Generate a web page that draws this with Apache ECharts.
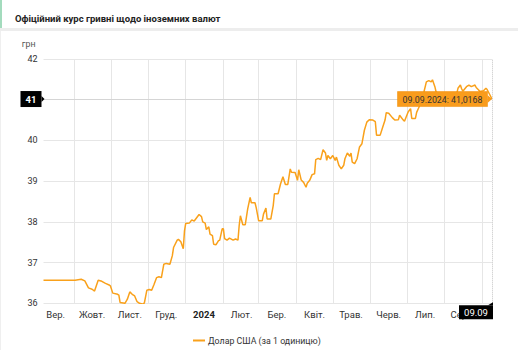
<!DOCTYPE html>
<html><head><meta charset="utf-8">
<script src="https://cdn.jsdelivr.net/npm/echarts@6/dist/echarts.min.js"></script>
<style>html,body{margin:0;padding:0;background:#fff}#c{width:518px;height:350px}</style>
</head><body><div id="c"></div>
<script>
const titleText = 'Офіційний курс гривні щодо іноземних валют';
const seriesName = 'Долар США (за 1 одиницю)';
const unitName = 'грн';
const monthNames = ['Січ.','Лют.','Бер.','Квіт.','Трав.','Черв.','Лип.','Серп.','Вер.','Жовт.','Лист.','Груд.'];
const yTicks = [36, 37, 38, 39, 40, 41, 42];
const rangeStart = '2023-09-06';
const rangeEnd = '2024-09-09';

const rateDates = ['2023-09-06','2023-10-02','2023-10-07','2023-10-10','2023-10-13','2023-10-16','2023-10-18','2023-10-21','2023-10-24','2023-10-27','2023-10-30','2023-10-31',
'2023-11-02','2023-11-06','2023-11-07','2023-11-08','2023-11-12','2023-11-14','2023-11-16','2023-11-18','2023-11-20','2023-11-22','2023-11-24','2023-11-27','2023-11-28','2023-11-30',
'2023-12-02','2023-12-04','2023-12-06','2023-12-08','2023-12-10','2023-12-12','2023-12-14','2023-12-16','2023-12-19','2023-12-21','2023-12-22','2023-12-25','2023-12-26','2023-12-28','2023-12-30','2023-12-31',
'2024-01-01','2024-01-04','2024-01-06','2024-01-08','2024-01-10','2024-01-12','2024-01-14','2024-01-15','2024-01-17','2024-01-18','2024-01-20','2024-01-21','2024-01-23','2024-01-24','2024-01-26','2024-01-28','2024-01-29','2024-01-31',
'2024-02-01','2024-02-02','2024-02-04','2024-02-06','2024-02-09','2024-02-11','2024-02-13','2024-02-14','2024-02-15','2024-02-17','2024-02-19','2024-02-21','2024-02-23','2024-02-24','2024-02-27','2024-02-28',
'2024-03-01','2024-03-04','2024-03-05','2024-03-07','2024-03-08','2024-03-11','2024-03-13','2024-03-14','2024-03-17','2024-03-19','2024-03-21','2024-03-23','2024-03-25','2024-03-27','2024-03-28','2024-03-31',
'2024-04-02','2024-04-03','2024-04-05','2024-04-07','2024-04-09','2024-04-10','2024-04-12','2024-04-14','2024-04-16','2024-04-17','2024-04-19','2024-04-21','2024-04-23','2024-04-25','2024-04-26','2024-04-27','2024-04-29',
'2024-05-01','2024-05-03','2024-05-04','2024-05-06','2024-05-08','2024-05-10','2024-05-11','2024-05-13','2024-05-15','2024-05-16','2024-05-17','2024-05-19','2024-05-21','2024-05-23','2024-05-25','2024-05-27','2024-05-29','2024-05-31',
'2024-06-03','2024-06-05','2024-06-06','2024-06-09','2024-06-11','2024-06-13','2024-06-14','2024-06-16','2024-06-19','2024-06-21','2024-06-24','2024-06-25','2024-06-28','2024-06-29',
'2024-07-02','2024-07-04','2024-07-05','2024-07-08','2024-07-09','2024-07-11','2024-07-13','2024-07-15','2024-07-17','2024-07-19','2024-07-21','2024-07-22','2024-07-24','2024-07-25','2024-07-27','2024-07-30',
'2024-08-02','2024-08-05','2024-08-08','2024-08-11','2024-08-12','2024-08-14','2024-08-15','2024-08-16','2024-08-19','2024-08-21','2024-08-23','2024-08-26','2024-08-27','2024-08-29','2024-08-30',
'2024-09-02','2024-09-04','2024-09-05','2024-09-09'];

const rateValues = [36.5686,36.5686,36.59,36.55,36.38,36.345,36.30,36.567,36.54,36.49,36.45,36.43,
36.25,36.22,36.20,36.02,36.00,36.10,36.28,36.22,36.18,36.04,36.00,35.98,36.01,36.32,
36.34,36.32,36.47,36.63,36.65,36.63,36.96,36.98,36.96,37.17,37.37,37.55,37.57,37.51,37.34,37.78,
37.96,37.97,38.05,38.02,38.10,38.18,38.13,38.00,37.97,37.81,37.88,37.70,37.66,37.45,37.44,37.54,37.55,37.83,
37.83,37.59,37.55,37.60,37.55,37.58,37.55,37.91,38.15,37.93,37.93,38.32,38.60,38.47,38.47,38.35,
38.03,38.03,38.19,38.34,38.07,38.07,38.40,38.69,38.69,38.93,39.11,38.92,38.92,39.30,39.22,39.21,
39.02,39.28,39.03,38.97,38.85,38.95,39.02,39.16,39.18,39.53,39.56,39.53,39.77,39.69,39.51,39.63,39.55,
39.63,39.51,39.59,39.39,39.30,39.39,39.55,39.69,39.61,39.69,39.47,39.43,39.55,39.84,39.92,40.25,40.45,40.51,
40.50,40.46,40.13,40.13,40.32,40.50,40.68,40.67,40.56,40.50,40.51,40.62,40.50,40.47,
40.70,40.78,40.54,40.54,40.69,40.82,40.99,41.19,41.44,41.47,41.44,41.49,41.32,41.19,41.15,41.10,
41.05,41.12,41.08,41.15,41.28,41.36,41.27,41.21,41.32,41.36,41.32,41.36,41.30,41.24,41.20,
41.22,41.28,41.25,41.0168];

// calendar days of the axis
const dayCats = [];
(function(){
  let d = new Date(rangeStart + 'T00:00:00Z');
  const end = new Date(rangeEnd + 'T00:00:00Z');
  while (d <= end) { dayCats.push(d.toISOString().slice(0,10)); d = new Date(d.getTime() + 86400000); }
})();

const seriesData = rateDates.map((d, i) => [d, rateValues[i]]);
const lastDate = rateDates[rateDates.length - 1];
const lastVal = rateValues[rateValues.length - 1];
const pointerTick = Math.round(lastVal);
const FONT = 'Roboto, "Noto Sans", sans-serif';

const chart = echarts.init(document.getElementById('c'), null, {renderer: 'svg'});
chart.setOption({
  animation: false,
  backgroundColor: '#fff',
  title: {text: titleText, left: 10, top: 8, textStyle: {fontFamily: FONT, fontSize: 9.5, fontWeight: 'bold', color: '#222'}},
  legend: {
    data: [seriesName], left: 188, top: 331, icon: 'rect', itemWidth: 12, itemHeight: 2, itemGap: 4,
    textStyle: {fontFamily: FONT, fontSize: 8.8, color: '#333', padding: [0, 0, 0, -2]}
  },
  grid: {left: 43.5, right: 26, top: 59, bottom: 46.7, containLabel: false},
  xAxis: {
    type: 'category', data: dayCats, boundaryGap: false,
    axisLine: {show: false}, axisTick: {show: false},
    axisLabel: {
      interval: (idx, val) => val.slice(8) === '16', margin: 6,
      fontFamily: FONT, fontSize: 9.5, color: '#333',
      formatter: (val) => { const m = +val.slice(5,7); return m === 1 ? '{y|' + val.slice(0,4) + '}' : monthNames[m-1]; },
      rich: {y: {fontFamily: FONT, fontSize: 9.5, fontWeight: 'bold', color: '#222'}}
    },
    splitLine: {show: true, interval: (idx, val) => val.slice(8) === '01', lineStyle: {color: '#e6e6e6', width: 1}}
  },
  yAxis: {
    type: 'value', min: yTicks[0], max: yTicks[yTicks.length-1], interval: 1,
    name: unitName, nameLocation: 'end', nameGap: 11,
    nameTextStyle: {fontFamily: FONT, fontSize: 8.8, color: '#555', align: 'right', padding: [0, 8, 0, 0]},
    axisLine: {show: false}, axisTick: {show: false},
    // the tick under the crosshair label is covered by it, as in the reference
    axisLabel: {margin: 6, fontFamily: FONT, fontSize: 9, color: '#333', formatter: (v) => v === pointerTick ? '' : String(v)},
    splitLine: {lineStyle: {color: '#e6e6e6', width: 1}}
  },
  series: [{
    name: seriesName, type: 'line', data: seriesData, showSymbol: false, symbol: 'none', z: 2,
    color: '#f9a11b', lineStyle: {width: 1.5, color: '#f9a11b'},
    markLine: {
      silent: true, symbol: ['none','none'], label: {show: false},
      lineStyle: {color: '#c4c4c4', type: 'dotted', width: 1},
      data: [{yAxis: lastVal}, {xAxis: lastDate}]
    }
  }]
});

const lastIdx = dayCats.indexOf(lastDate);
const p = chart.convertToPixel({xAxisIndex: 0, yAxisIndex: 0}, [lastIdx, lastVal]);
const bottomY = chart.convertToPixel({yAxisIndex: 0}, yTicks[0]);
const leftX = chart.convertToPixel({xAxisIndex: 0}, 0);
const dateParts = lastDate.split('-');
const tipText = dateParts[2] + '.' + dateParts[1] + '.' + dateParts[0] + ': ' + lastVal.toFixed(4).replace('.', ',');
const xLabelText = dateParts[2] + '.' + dateParts[1];
const yLabelText = lastVal.toFixed(0);
const orange = '#f99c1c';

chart.setOption({
  graphic: {elements: [
    {type: 'rect', zlevel: 1, z: 100, shape: {x: 0, y: 0, width: 2, height: 28}, style: {fill: '#a3dbbd'}},
    {type: 'rect', zlevel: 1, z: 100, shape: {x: 0, y: 28, width: 518, height: 3}, style: {fill: '#ededed'}},
    {type: 'rect', zlevel: 1, z: 100, shape: {x: 0, y: 31, width: 1, height: 319}, style: {fill: '#efefef'}},
    // y axis pointer label
    {type: 'rect', zlevel: 1, z: 100, shape: {x: leftX - 23, y: p[1] - 8, width: 21, height: 16}, style: {fill: '#000'}},
    {type: 'polygon', zlevel: 1, z: 100, shape: {points: [[leftX - 2, p[1] - 3], [leftX + 1, p[1]], [leftX - 2, p[1] + 3]]}, style: {fill: '#000'}},
    {type: 'text', zlevel: 1, z: 101, x: leftX - 12.5, y: p[1], style: {text: yLabelText, fill: '#fff', font: 'bold 9.5px ' + FONT, align: 'center', verticalAlign: 'middle'}},
    // x axis pointer label
    {type: 'rect', zlevel: 1, z: 100, shape: {x: p[0] - 33, y: bottomY + 2, width: 34, height: 14}, style: {fill: '#000'}},
    {type: 'polygon', zlevel: 1, z: 100, shape: {points: [[p[0] - 4, bottomY + 2], [p[0] + 1, bottomY - 1], [p[0] + 1, bottomY + 2]]}, style: {fill: '#000'}},
    {type: 'text', zlevel: 1, z: 101, x: p[0] - 16, y: bottomY + 9, style: {text: xLabelText, fill: '#fff', font: '9.5px ' + FONT, align: 'center', verticalAlign: 'middle'}},
    // tooltip
    {type: 'rect', zlevel: 1, z: 100, shape: {x: p[0] - 94.5, y: p[1] - 7.5, width: 90, height: 15}, style: {fill: orange, stroke: '#f08c00', lineWidth: 0.5}},
    {type: 'polygon', zlevel: 1, z: 100, shape: {points: [[p[0] - 4.5, p[1] - 4], [p[0], p[1]], [p[0] - 4.5, p[1] + 4]]}, style: {fill: orange}},
    {type: 'text', zlevel: 1, z: 101, x: p[0] - 49.5, y: p[1] + 0.5, style: {text: tipText, fill: '#333', font: '8.8px ' + FONT, align: 'center', verticalAlign: 'middle'}}
  ]}
});
</script></body></html>
